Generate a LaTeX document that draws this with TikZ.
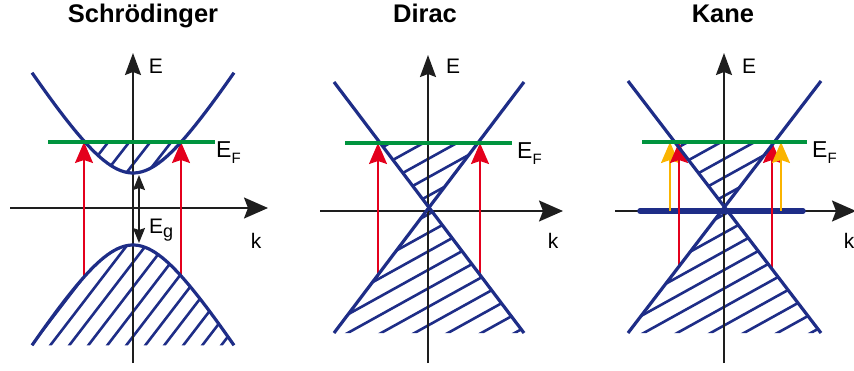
\documentclass[tikz,border=0pt]{standalone}
\usepackage{fontspec}
\setmainfont{Liberation Sans}
\usetikzlibrary{arrows.meta}

\definecolor{bandblue}{RGB}{30,45,135}
\definecolor{fermigreen}{RGB}{0,148,62}
\definecolor{exred}{RGB}{228,0,28}
\definecolor{exorange}{RGB}{250,180,0}
\definecolor{axisblack}{RGB}{30,30,30}

\tikzset{
  band/.style={bandblue, line width=3.2pt},
  flatband/.style={bandblue, line width=5.5pt, line cap=round},
  hatch/.style={bandblue, line width=2.6pt},
  fermi/.style={fermigreen, line width=3.6pt},
  eaxis/.style={axisblack, line width=1.9pt, -{Stealth[length=22pt,width=16pt,inset=3pt]}},
  kaxis/.style={axisblack, line width=1.9pt, -{Stealth[length=24pt,width=21pt,inset=4pt]}},
  excite/.style={exred, line width=1.7pt, -{Stealth[length=21pt,width=18pt,inset=3pt]}},
  exciteflat/.style={exorange, line width=1.7pt, -{Stealth[length=21pt,width=18pt,inset=3pt]}},
  gaparrow/.style={axisblack, line width=1.6pt, {Stealth[length=15pt,width=12pt,inset=2pt]}-{Stealth[length=15pt,width=12pt,inset=2pt]}},
  title/.style={font=\fontsize{25.5}{30}\selectfont\bfseries, inner sep=0pt, anchor=base},
  lbl/.style={font=\fontsize{21}{24}\selectfont, inner sep=0pt, anchor=base},
  eflbl/.style={font=\fontsize{23}{26}\selectfont, inner sep=0pt, anchor=base west},
}

\begin{document}
\begin{tikzpicture}[x=1pt,y=-1pt]
    \useasboundingbox (0,0) rectangle (854,370);

    % ---- Schroedinger ----
    \begin{scope}
        \clip plot[domain=-48.1:48.1, samples=40] ({133+\x},{173-80*(sqrt(1+(\x/50)^2)-1)}) -- cycle;
        \foreach \k in {-2,...,5} \draw[hatch] ({108+21*\k-37},190) -- ({108+21*\k+5},136);
    \end{scope}
    \begin{scope}
        \clip plot[domain=-101:101, samples=60] ({133+\x},{245+80*(sqrt(1+(\x/50)^2)-1)}) -- cycle;
        \foreach \k in {-1,...,11} \draw[hatch] ({32+19*\k-12},360) -- ({32+19*\k+180},110);
    \end{scope}
    \draw[kaxis] (10,208) -- (268,208);
    \draw[eaxis] (133,363) -- (133,53);
    \coordinate (vS1) at (84,276);  \coordinate (cS1) at (84,142);
    \coordinate (vS2) at (181,276); \coordinate (cS2) at (181,142);
    \draw[excite] (vS1) -- (cS1);
    \draw[excite] (vS2) -- (cS2);
    \coordinate (cbm) at (139,175); \coordinate (vbm) at (139,243);
    \draw[gaparrow] (cbm) -- (vbm);
    \draw[band] plot[domain=-101:101, samples=60, smooth] ({133+\x},{173-80*(sqrt(1+(\x/50)^2)-1)});
    \draw[band] plot[domain=-101:101, samples=60, smooth] ({133+\x},{245+80*(sqrt(1+(\x/50)^2)-1)});
    \draw[fermi] (48,142) -- (215,142);
    \node[title] (tS) at (143,22) {Schrödinger};
    \node[lbl] (eS) at (156,73) {E};
    \node[lbl] (kS) at (256,248) {k};
    \node[eflbl] (fS) at (216,157) {E\raisebox{-6pt}{\fontsize{15}{15}\selectfont F}};
    \node[lbl, anchor=base west] (gS) at (149,233) {E\raisebox{-4pt}{\fontsize{18}{18}\selectfont g}};

    % ---- Dirac ----
    \begin{scope}
        \clip (380.2,143) -- (477.8,143) -- (429,207.5) -- cycle;
        \foreach \k in {-7,...,3} \draw[hatch] (278,{233+18.5*\k+83.1}) -- (578,{233+18.5*\k-83.1});
    \end{scope}
    \begin{scope}
        \clip (429,207.5) -- (524,333) -- (334,333) -- cycle;
        \foreach \k in {-3,...,9} \draw[hatch] (278,{233+18.5*\k+83.1}) -- (578,{233+18.5*\k-83.1});
    \end{scope}
    \draw[kaxis] (320,211) -- (563,211);
    \draw[eaxis] (428,363) -- (428,55);
    \coordinate (vD1) at (378,277); \coordinate (cD1) at (378,143);
    \coordinate (vD2) at (480,277); \coordinate (cD2) at (480,143);
    \draw[excite] (vD1) -- (cD1);
    \draw[excite] (vD2) -- (cD2);
    \draw[band] (334,82) -- (524,333);
    \draw[band] (524,82) -- (334,333);
    \draw[fermi] (345,143) -- (512,143);
    \node[title] (tD) at (425,22) {Dirac};
    \node[lbl] (eD) at (453,73) {E};
    \node[lbl] (kD) at (553,248) {k};
    \node[eflbl] (fD) at (517,158) {E\raisebox{-6pt}{\fontsize{15}{15}\selectfont F}};

    % ---- Kane ----
    \begin{scope}
        \clip (674.7,142) -- (774.3,142) -- (724.5,207) -- cycle;
        \foreach \k in {-7,...,3} \draw[hatch] (574,{233+18.5*\k+83.1}) -- (874,{233+18.5*\k-83.1});
    \end{scope}
    \begin{scope}
        \clip (724.5,207) -- (821,333) -- (628,333) -- cycle;
        \foreach \k in {-3,...,9} \draw[hatch] (574,{233+18.5*\k+83.1}) -- (874,{233+18.5*\k-83.1});
    \end{scope}
    \draw[kaxis] (615,211) -- (856,211);
    \draw[eaxis] (724,363) -- (724,53);
    \draw[flatband] (640,211) -- (803,211);
    \coordinate (fK1) at (670,211); \coordinate (tK1) at (670,142);
    \coordinate (vK1) at (679,268); \coordinate (cK1) at (679,142);
    \coordinate (vK2) at (772,268); \coordinate (cK2) at (772,142);
    \coordinate (fK2) at (781,211); \coordinate (tK2) at (781,142);
    \draw[exciteflat] (fK1) -- (tK1);
    \draw[excite] (vK1) -- (cK1);
    \draw[excite] (vK2) -- (cK2);
    \draw[exciteflat] (fK2) -- (tK2);
    \draw[band] (628,81) -- (821,333);
    \draw[band] (821,81) -- (628,333);
    \draw[fermi] (642,142) -- (807,142);
    \node[title] (tK) at (723,22) {Kane};
    \node[lbl] (eK) at (749,73) {E};
    \node[lbl] (kK) at (849,248) {k};
    \node[eflbl] (fK) at (812,157) {E\raisebox{-6pt}{\fontsize{15}{15}\selectfont F}};
\end{tikzpicture}
\end{document}
